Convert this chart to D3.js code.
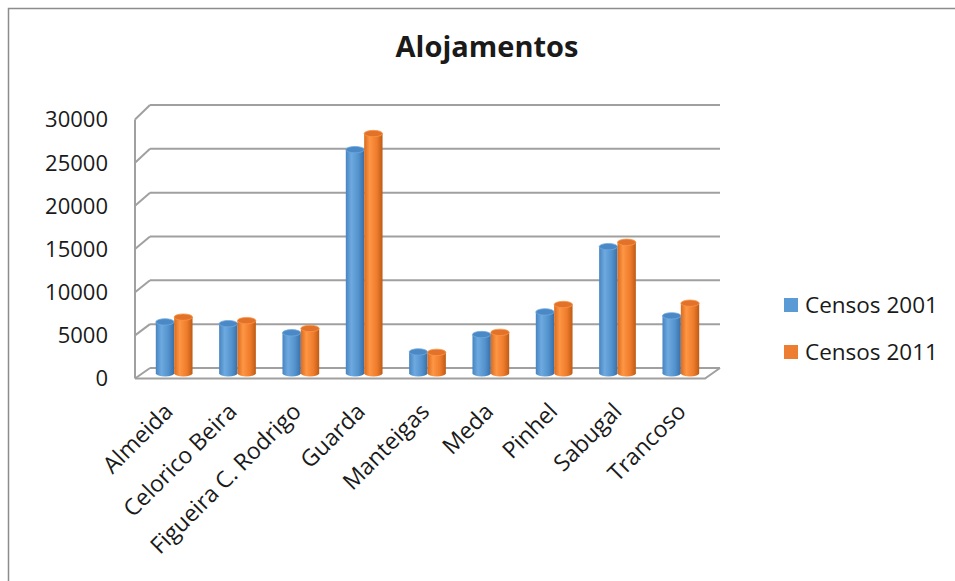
<!DOCTYPE html>
<html>
<head>
<meta charset="utf-8">
<script src="https://cdn.jsdelivr.net/npm/d3@7"></script>
<style>
  body { margin: 0; background: #fff; }
  text { font-family: "Open Sans", sans-serif; fill: #1a1a1a; }
</style>
</head>
<body>
<div id="grafica"></div>
<script>
// datos
const categories = ["Almeida", "Celorico Beira", "Figueira C. Rodrigo", "Guarda", "Manteigas", "Meda", "Pinhel", "Sabugal", "Trancoso"]
const censos2001 = [5900, 5700, 4650, 25700, 2450, 4450, 7050, 14550, 6600]
const censos2011 = [6450, 6050, 5150, 27550, 2400, 4700, 7900, 15050, 8050]
const seriesNames = ["Censos 2001", "Censos 2011"]
const yTicks = [0, 5000, 10000, 15000, 20000, 25000, 30000]

const svgWidth = 955
const svgHeight = 581

// caja 3D: plano frontal y plano de fondo
const front = { left: 135, right: 705, y0: 378.5, yMax: 119.5 }
const depth = { dx: 15, dy: 10.5 }
const back = { left: front.left + depth.dx, right: front.right + depth.dx, y0: 368, yMax: 105 }

const yFront = d3.scaleLinear().domain([0, 30000]).range([front.y0, front.yMax])
const yBack = d3.scaleLinear().domain([0, 30000]).range([back.y0, back.yMax])
// las barras van en el medio de la profundidad
const yMid = d3.scaleLinear().domain([0, 30000])
    .range([(front.y0 + back.y0) / 2, (front.yMax + back.yMax) / 2])

const scaleX = d3.scaleBand()
    .domain(categories)
    .range([front.left + depth.dx / 2, front.right + depth.dx / 2])
    .paddingInner(0.42)
    .paddingOuter(0.21)

const scaleSeries = d3.scaleBand()
    .domain(seriesNames)
    .range([0, scaleX.bandwidth()])

const colors = ["#5b9bd5", "#ed7d31"]

const svg = d3.select('#grafica')
    .append('svg')
    .attr('width', svgWidth)
    .attr('height', svgHeight)

// gradientes de los cilindros
const defs = svg.append('defs')
const grads = [
    ["#4784c0", "#6eaae0", "#5291cc", "#3a6fa6"],
    ["#db6b1f", "#fd9645", "#ee7b2b", "#bd5b16"]
]
grads.forEach((g, i) => {
    const lg = defs.append('linearGradient')
        .attr('id', 'grad' + i)
        .attr('x1', 0).attr('x2', 1).attr('y1', 0).attr('y2', 0)
    lg.append('stop').attr('offset', 0).attr('stop-color', g[0])
    lg.append('stop').attr('offset', 0.3).attr('stop-color', g[1])
    lg.append('stop').attr('offset', 0.7).attr('stop-color', g[2])
    lg.append('stop').attr('offset', 1).attr('stop-color', g[3])
})
const tops = ["#4a88c6", "#e2722a"]

// marco
svg.append('rect')
    .attr('x', 8.5).attr('y', 8.5)
    .attr('width', 1000).attr('height', 700)
    .style('fill', 'none')
    .style('stroke', '#8c8c8c')
    .style('stroke-width', 1.5)

// titulo
svg.append('text')
    .attr('x', 487).attr('y', 57)
    .attr('text-anchor', 'middle')
    .style('font-size', '29px')
    .style('font-weight', 'bold')
    .text('Alojamentos')

const grid = svg.append('g')
    .style('stroke', '#a0a0a0')
    .style('stroke-width', 2)
    .style('fill', 'none')

// lineas de la pared de fondo y pared lateral
grid.selectAll('.gridline')
    .data(yTicks)
    .enter()
    .append('line')
    .attr('x1', back.left).attr('x2', back.right)
    .attr('y1', d => yBack(d)).attr('y2', d => yBack(d))

grid.selectAll('.side')
    .data(yTicks)
    .enter()
    .append('line')
    .attr('x1', front.left).attr('x2', back.left)
    .attr('y1', d => yFront(d)).attr('y2', d => yBack(d))

grid.append('line')
    .attr('x1', front.left).attr('x2', front.left)
    .attr('y1', yFront(30000)).attr('y2', yFront(0))

// suelo
grid.append('path')
    .attr('d', `M${front.left},${yFront(0)} L${front.right},${yFront(0)} L${back.right},${yBack(0)}`)

// eje Y
svg.append('g')
    .selectAll('text')
    .data(yTicks)
    .enter()
    .append('text')
    .attr('x', 108)
    .attr('y', d => yFront(d))
    .attr('dy', '0.36em')
    .attr('text-anchor', 'end')
    .style('font-size', '22px')
    .text(d => d)

// cilindros
const ry = 3.2
const bars = []
categories.forEach((c, i) => {
    bars.push({ cat: c, s: 0, v: censos2001[i] })
    bars.push({ cat: c, s: 1, v: censos2011[i] })
})

const barG = svg.append('g')
    .selectAll('.bar')
    .data(bars)
    .enter()
    .append('g')
    .attr('class', 'bar')

barG.append('path')
    .attr('d', d => {
        const x0 = scaleX(d.cat) + scaleSeries(seriesNames[d.s])
        const w = scaleSeries.bandwidth()
        const yb = yMid(0)
        const yt = yMid(d.v)
        return `M${x0},${yt} L${x0},${yb} A${w / 2},${ry} 0 0 0 ${x0 + w},${yb} L${x0 + w},${yt} Z`
    })
    .style('fill', d => `url(#grad${d.s})`)

barG.append('ellipse')
    .attr('cx', d => scaleX(d.cat) + scaleSeries(seriesNames[d.s]) + scaleSeries.bandwidth() / 2)
    .attr('cy', d => yMid(d.v))
    .attr('rx', scaleSeries.bandwidth() / 2)
    .attr('ry', ry)
    .style('fill', d => tops[d.s])
    .style('stroke', d => grads[d.s][1])
    .style('stroke-width', 0.8)

// etiquetas eje X
svg.append('g')
    .selectAll('text')
    .data(categories)
    .enter()
    .append('text')
    .attr('text-anchor', 'end')
    .attr('transform', (d, i) => `translate(${scaleX(d) + scaleX.bandwidth() / 2 + i * 0.8},${413}) rotate(-45)`)
    .style('font-size', '23px')
    .text(d => d)

// leyenda
const legend = svg.append('g')
    .selectAll('g')
    .data(seriesNames)
    .enter()
    .append('g')
    .attr('transform', (d, i) => `translate(784,${305 + i * 47})`)

legend.append('rect')
    .attr('x', 0).attr('y', -7)
    .attr('width', 14).attr('height', 14)
    .style('fill', (d, i) => colors[i])

legend.append('text')
    .attr('x', 21)
    .attr('dy', '0.36em')
    .style('font-size', '22.5px')
    .text(d => d)
</script>
</body>
</html>
